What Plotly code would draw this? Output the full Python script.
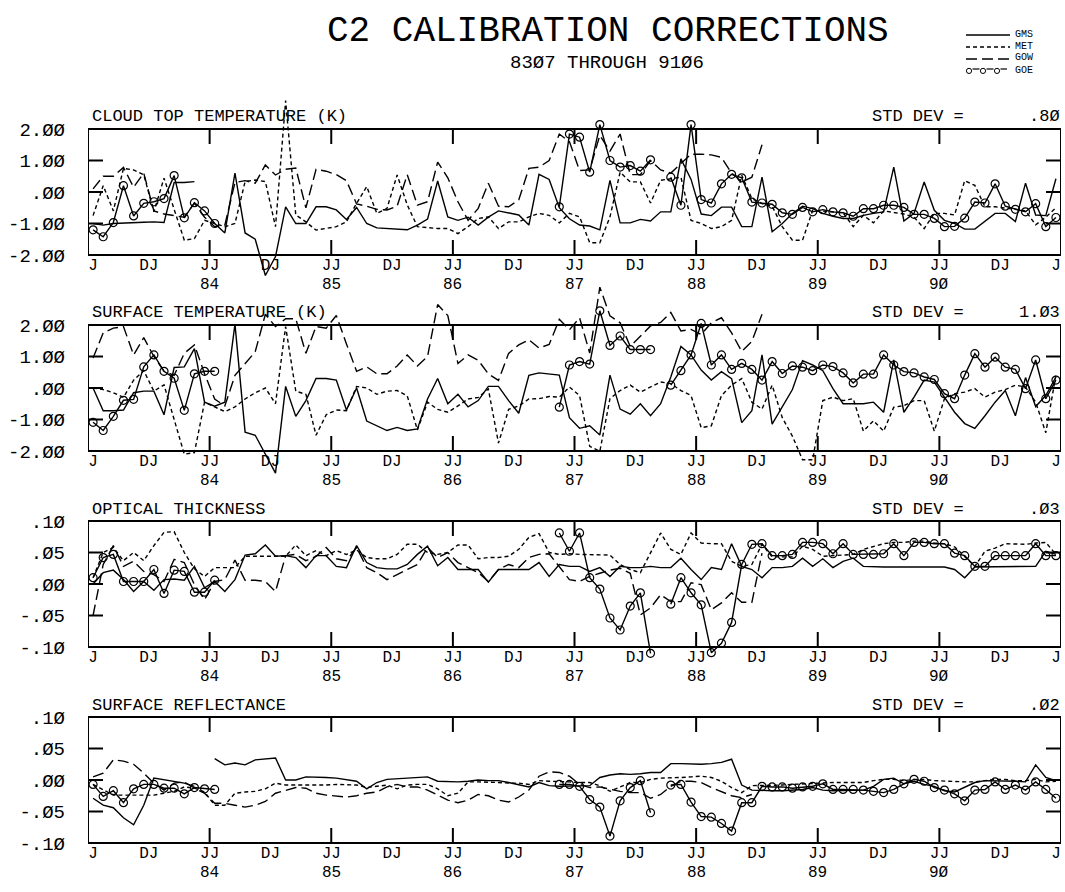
import plotly.graph_objects as go

# Monthly calibration corrections, July 1983 (month 0) through June 1991 (month 95).
# None marks months with no correction for that satellite.

MONTHS = list(range(96))

X_TICK_POS = [0.5, 6, 12, 18, 24, 30, 36, 42, 48, 54, 60, 66, 72, 78, 84, 90, 95.5]
X_TICK_TEXT = ["J", "DJ", "JJ", "DJ", "JJ", "DJ", "JJ", "DJ",
               "JJ", "DJ", "JJ", "DJ", "JJ", "DJ", "JJ", "DJ", "J"]
YEAR_POS = [12, 24, 36, 48, 60, 72, 84]
YEAR_TEXT = ["84", "85", "86", "87", "88", "89", "9Ø"]

SATELLITES = ["GMS", "MET", "GOW", "GOE"]

# ---------------- cloud top temperature (K) ----------------
CTT_GMS = [-1.0, -1.05, -1.0, -0.98, -0.97, -0.96, -0.95, -0.97, 0.3, 0.3,
           0.33, None, -1.0, -1.3, 0.6, -1.3, -1.5, -2.65, -2.05, -0.47,
           -1.0, -1.0, -0.47, -0.47, -0.57, -0.87, -0.49, -1.0, -1.14, -1.16,
           -1.16, -1.2, -1.05, -0.86, 0.35, -0.79, -0.9, -0.8, -1.05, -0.8,
           -0.6, -0.66, -0.73, -1.05, 0.56, 0.4, -0.5, -0.85, -1.05, -1.08,
           -1.2, 0.37, -0.98, -0.98, -0.87, -0.92, -0.63, -0.63, 1.05, 0.4,
           -0.7, -0.75, -0.48, -0.48, -1.1, -1.1, 0.47, -1.26, -1.0, -0.68,
           -0.45, -0.53, -0.68, -0.77, -0.84, -0.84, -0.74, -0.68, -0.63, 0.79,
           -0.92, -0.68, 0.32, -0.58, -0.9, -1.0, -1.18, -1.18, -0.94, -0.68,
           -0.68, -0.94, 0.28, -0.73, -0.75, 0.42]
CTT_MET = [-0.75, 0.2, -0.6, 0.75, 0.7, 0.55, -0.63, 0.44, -0.55, -1.53,
           -1.48, -0.9, -1.0, -1.1, -1.0, 0.33, 0.38, 0.33, -1.1, 2.9,
           -0.73, -0.95, -1.21, -1.16, -1.1, -0.95, -0.36, 0.17, -0.68, -0.52,
           0.54, -0.41, -1.1, -1.13, -1.16, -1.16, -1.32, -1.1, -0.84, -0.79,
           -1.16, -0.95, -0.95, -0.79, -0.68, -0.74, -0.98, -0.68, -0.79, -1.61,
           -1.61, -0.79, 0.63, 0.32, 0.32, -0.35, 0.37, 0.42, 0.47, -0.9,
           -1.0, -1.16, -1.1, -0.9, 0.53, -0.21, -0.37, -0.45, -1.1, -1.53,
           -1.53, -0.58, -0.6, -0.63, -0.66, -1.1, -0.74, -0.98, -0.6, -0.65,
           -0.7, -0.8, -1.16, -0.68, -0.68, -0.73, 0.36, 0.21, -0.47, -0.47,
           -0.5, -0.55, -0.6, -1.04, -0.8, -0.5]
CTT_GOW = [0.1, 0.5, 0.5, 0.78, 0.15, 0.6, -0.6, -0.7, -0.75, -0.8,
           -0.35, -0.8, -1.1, -1.05, 0.3, 0.36, 0.28, 0.86, 0.54, 0.72,
           0.76, -0.5, 0.72, 0.66, 0.55, 0.36, -0.38, -0.45, -0.55, -0.57,
           -0.45, 0.55, -0.42, -0.31, 0.95, 0.45, -0.31, -0.9, -0.52, 0.28,
           -0.45, -0.47, -0.25, 0.75, 0.79, 1.0, 1.84, 1.6, 0.68, 0.7,
           1.8, 1.3, 1.84, 0.55, 0.55, 1.0, 0.7, 0.6, 0.9, 1.2,
           1.2, 1.18, 1.1, 0.6, 0.32, 0.47, 1.5] + [None] * 29
CTT_GOE = ([-1.2, -1.42, -0.97, 0.2, -0.76, -0.36, -0.31, -0.21, 0.52, -0.82,
            -0.34, -0.6, -1.0] + [None] * 33 +
           [-0.47, 1.84, 1.74, 0.63, 2.14, 1.0, 0.79, 0.84, 0.66, 1.02] + [None] +
           [0.47, -0.42, 2.14, -0.24, -0.35, 0.26, 0.56, 0.45, -0.32, -0.35,
            -0.39, -0.66, -0.71, -0.49, -0.63, -0.56, -0.63, -0.66, -0.77, -0.53,
            -0.53, -0.42, -0.42, -0.49, -0.71, -0.71, -0.84, -1.1, -1.09, -0.83,
            -0.32, -0.35, 0.26, -0.45, -0.55, -0.63, -0.37, -1.1, -0.81])

# ---------------- surface temperature (K) ----------------
ST_GMS = [0.0, -0.72, -0.72, -0.7, -0.15, -0.1, -0.1, -0.85, 0.65, 0.67,
          1.25, -0.45, -0.58, -0.45, 2.03, -1.4, -1.5, -2.1, -2.7, 0.05,
          -0.9, -0.4, 0.3, 0.3, 0.25, -0.7, 0.0, -1.05, -1.2, -1.35,
          -1.25, -1.35, -1.3, -0.35, 0.3, -0.5, -0.2, -0.6, -0.4, 0.05,
          0.05, -0.4, -0.8, 0.4, 0.48, 0.44, 0.41, -0.94, -1.28, -1.2,
          -1.49, 0.41, -0.67, -0.83, -0.5, -0.88, -0.5, 0.35, 1.32, 1.05,
          0.57, 0.25, 0.52, 0.3, -1.1, -0.72, 1.05, -1.15, -0.61, -0.05,
          0.87, 0.73, 0.55, -0.02, -0.5, -0.5, -0.5, -0.45, -0.77, 0.89,
          -0.77, -0.29, 0.25, 0.19, -0.29, -0.77, -1.13, -1.28, -0.88, -0.45,
          -0.08, -0.88, 0.33, -0.59, -0.24, 0.35]
ST_MET = [0.0, -0.05, -0.15, -0.3, 0.25, 0.55, -0.1, 0.1, -1.0, -2.1,
          -2.05, -0.45, -0.6, -0.75, -0.6, -0.35, -0.15, 0.0, -0.5, 1.95,
          -0.1, -0.2, -1.5, -0.85, -0.7, -0.72, 0.05, 0.0, -0.2, -0.1,
          -0.08, -0.25, -1.33, -0.45, -0.68, -0.77, -0.57, -0.35, -0.3, -0.03,
          -1.75, -0.68, -0.57, -0.35, -0.34, -0.27, -0.29, 0.03, -0.24, -1.85,
          -2.01, -0.34, -0.08, 0.09, -0.13, 0.03, 0.19, 0.14, -0.08, -0.24,
          -1.26, -1.2, -0.24, 0.09, 0.3, -0.45, -0.67, 0.09, -0.94, -1.53,
          -2.28, -2.28, -0.4, -0.29, -0.4, -0.34, -1.37, -1.04, -1.37, -0.61,
          -0.56, -0.4, -0.4, -1.37, -0.34, -0.18, -0.13, -0.02, -0.29, -0.13,
          -0.05, 0.09, 0.03, -0.45, -1.42, 0.41]
ST_GOW = [0.95, 1.75, 1.9, 1.95, 1.05, 1.6, 1.0, 0.53, 0.4, 1.1,
          1.37, 0.45, -0.35, -0.57, 0.4, 0.78, 1.15, 2.34, 1.95, 2.2,
          2.2, 1.1, 1.95, 1.9, 2.3, 1.4, 0.53, 0.67, 0.45, 0.45,
          0.7, 1.05, 0.7, 1.0, 2.65, 2.3, 0.78, 1.05, 0.88, 0.45,
          0.24, 1.1, 1.37, 1.53, 1.27, 1.38, 2.18, 1.85, 2.23, 1.11,
          3.2, 2.29, 2.07, 1.32, 1.65, 1.97, 2.08, 2.4, 1.81, 1.86,
          1.7, 2.07, 2.23, 1.75, 1.16, 1.48, 2.34] + [None] * 29
ST_GOE = ([-1.09, -1.35, -0.9, -0.39, -0.36, 0.67, 1.05, 0.53, 0.31, -0.71,
           0.45, 0.53, 0.53] + [None] * 33 +
          [-0.61, 0.73, 0.84, 0.76, 2.45, 1.35, 1.65, 1.22, 1.22, 1.22] + [None] +
          [0.09, 0.55, 1.05, 2.05, 0.73, 1.05, 0.59, 0.78, 0.59, 0.25,
           0.84, 0.46, 0.7, 0.66, 0.55, 0.73, 0.68, 0.48, 0.16, 0.44,
           0.44, 1.05, 0.73, 0.52, 0.48, 0.35, 0.27, -0.18, -0.34, 0.41,
           1.09, 0.66, 0.98, 0.66, 0.59, -0.02, 0.89, -0.34, 0.25])

# ---------------- optical thickness ----------------
OT_GMS = [0.0, 0.018, 0.022, 0.007, -0.012, 0.004, -0.010, 0.007, 0.008, 0.006,
          0.028, -0.006, 0.004, -0.012, 0.007, 0.046, 0.048, 0.062, 0.044, 0.045,
          0.042, 0.026, 0.045, 0.045, 0.028, 0.026, 0.061, 0.034, 0.026, 0.024,
          0.024, 0.031, 0.047, 0.060, 0.029, 0.042, 0.023, 0.023, 0.023, 0.003,
          0.023, 0.023, 0.023, 0.023, 0.034, 0.012, 0.031, 0.028, 0.028, 0.020,
          0.026, 0.012, 0.028, 0.026, 0.026, 0.028, 0.026, 0.026, 0.041, 0.023,
          0.007, 0.026, 0.023, 0.064, 0.028, 0.023, 0.010, 0.026, 0.026, 0.028,
          0.041, 0.028, 0.040, 0.026, 0.036, 0.041, 0.028, 0.027, 0.027, 0.027,
          0.027, 0.027, 0.027, 0.027, 0.027, 0.023, 0.010, 0.027, 0.027, 0.027,
          0.027, 0.027, 0.027, 0.028, 0.052, 0.047]
OT_MET = [0.010, 0.050, 0.058, 0.037, 0.050, 0.037, 0.061, 0.082, 0.083, 0.050,
          0.024, 0.012, 0.026, 0.026, 0.026, 0.044, 0.044, 0.044, 0.044, 0.044,
          0.062, 0.045, 0.053, 0.045, 0.053, 0.047, 0.054, 0.042, 0.040, 0.040,
          0.047, 0.063, 0.063, 0.050, 0.047, 0.050, 0.062, 0.062, 0.040, 0.042,
          0.042, 0.044, 0.055, 0.074, 0.080, 0.050, 0.047, 0.048, 0.047, 0.047,
          0.047, 0.046, 0.031, 0.023, 0.018, 0.049, 0.081, 0.055, 0.047, 0.081,
          0.065, 0.064, 0.064, 0.036, 0.028, 0.031, 0.063, 0.043, 0.043, 0.043,
          0.060, 0.055, 0.044, 0.045, 0.047, 0.047, 0.055, 0.059, 0.064, 0.066,
          0.066, 0.068, 0.068, 0.065, 0.064, 0.059, 0.043, 0.028, 0.052, 0.057,
          0.064, 0.064, 0.063, 0.065, 0.066, 0.047]
OT_GOW = [-0.050, 0.031, 0.061, 0.028, 0.036, 0.020, 0.015, 0.004, 0.039, 0.034,
          -0.001, -0.025, 0.004, 0.007, 0.038, 0.006, 0.006, 0.004, -0.012, 0.045,
          0.047, 0.037, 0.044, 0.058, 0.040, 0.037, 0.058, 0.026, 0.018, 0.007,
          0.015, 0.023, 0.031, 0.058, 0.042, 0.050, 0.034, 0.026, 0.018, 0.004,
          0.023, 0.031, 0.026, 0.042, 0.047, 0.048, 0.028, 0.007, 0.004, 0.012,
          0.017, 0.022, 0.025, 0.017, -0.049, -0.038, -0.017, -0.028, -0.028, 0.002,
          -0.001, -0.041, -0.030, -0.014, -0.029, -0.029, 0.049] + [None] * 29
OT_GOE = ([0.010, 0.042, 0.047, 0.004, 0.004, 0.004, 0.023, -0.015, 0.022, 0.020,
           -0.013, -0.013, 0.006] + [None] * 33 +
          [0.081, 0.052, 0.081, 0.010, -0.008, -0.054, -0.073, -0.035, -0.014, -0.110] +
          [None] +
          [-0.032, 0.010, -0.014, -0.033, -0.109, -0.094, -0.061, 0.031, 0.063, 0.064,
           0.045, 0.045, 0.047, 0.066, 0.066, 0.064, 0.048, 0.064, 0.047, 0.047,
           0.047, 0.048, 0.064, 0.045, 0.066, 0.066, 0.064, 0.064, 0.049, 0.045,
           0.028, 0.028, 0.045, 0.045, 0.045, 0.045, 0.064, 0.045, 0.045])

# ---------------- surface reflectance ----------------
SR_GMS = [-0.029, -0.040, -0.044, -0.060, -0.071, -0.040, 0.003, 0.000, -0.002, -0.005,
          -0.010, None, 0.034, 0.024, 0.027, 0.024, 0.032, 0.034, 0.035, 0.000,
          0.000, 0.005, 0.005, 0.004, 0.003, 0.000, -0.002, -0.014, -0.004, 0.001,
          0.002, 0.003, 0.004, 0.005, -0.002, -0.003, -0.003, -0.002, 0.000, -0.001,
          -0.001, -0.004, -0.007, -0.011, -0.004, -0.009, -0.010, -0.010, -0.010, -0.009,
          0.004, 0.008, 0.010, 0.009, 0.010, 0.012, 0.012, 0.026, 0.026, 0.025,
          0.025, 0.026, 0.028, 0.033, -0.008, -0.016, -0.017, -0.017, -0.017, -0.016,
          -0.015, -0.012, -0.016, -0.017, -0.017, -0.017, -0.016, -0.010, 0.001, 0.003,
          -0.006, -0.002, -0.007, -0.010, -0.017, -0.019, -0.011, -0.004, -0.001, -0.001,
          -0.002, -0.002, -0.003, 0.024, 0.004, -0.001]
SR_MET = [-0.007, -0.016, -0.024, -0.024, -0.024, -0.024, -0.024, -0.021, -0.018, -0.011,
          -0.013, -0.019, -0.040, -0.040, -0.021, -0.019, -0.018, -0.014, -0.005, -0.008,
          -0.008, -0.009, -0.008, -0.008, -0.007, -0.008, -0.008, -0.012, -0.010, -0.008,
          -0.014, -0.008, -0.007, -0.007, -0.014, -0.025, -0.021, -0.003, -0.003, -0.003,
          -0.004, -0.005, -0.005, -0.007, -0.001, -0.002, -0.002, -0.003, -0.004, -0.004,
          -0.009, -0.018, -0.011, -0.004, -0.004, 0.001, 0.003, 0.003, 0.004, 0.005,
          0.006, 0.004, -0.002, -0.012, -0.020, -0.009, -0.009, -0.009, -0.008, -0.007,
          -0.006, -0.006, -0.004, -0.004, -0.004, -0.004, -0.004, -0.001, 0.001, 0.001,
          -0.001, 0.001, 0.001, -0.001, -0.002, -0.003, -0.003, -0.003, -0.001, 0.001,
          0.001, -0.001, -0.001, 0.001, -0.003, -0.002]
SR_GOW = [0.005, 0.011, 0.032, 0.030, 0.025, 0.011, -0.005, -0.016, -0.005, -0.003,
          -0.013, -0.021, -0.037, -0.037, -0.040, -0.043, -0.040, -0.034, -0.021, -0.016,
          -0.012, -0.013, -0.021, -0.024, -0.025, -0.027, -0.025, -0.021, -0.019, -0.011,
          -0.007, -0.011, -0.011, -0.016, -0.024, -0.032, -0.036, -0.032, -0.023, -0.025,
          -0.032, -0.035, -0.027, -0.016, 0.006, 0.013, 0.012, 0.006, -0.007, -0.012,
          -0.011, -0.015, -0.018, -0.020, -0.020, -0.029, -0.023, -0.010, -0.002, -0.002,
          -0.004, -0.012, -0.018, -0.025, -0.028, -0.023] + [None] * 30
SR_GOE = ([-0.007, -0.026, -0.017, -0.036, -0.014, -0.007, -0.007, -0.013, -0.013, -0.022,
           -0.012, -0.014, -0.015] + [None] * 33 +
          [-0.007, -0.007, -0.010, -0.031, -0.043, -0.089, -0.033, -0.012, -0.001, -0.052] +
          [None] +
          [-0.008, -0.007, -0.035, -0.058, -0.059, -0.069, -0.081, -0.036, -0.036, -0.010,
           -0.011, -0.011, -0.013, -0.011, -0.010, -0.006, -0.015, -0.015, -0.015, -0.016,
           -0.018, -0.020, -0.015, -0.006, 0.001, -0.002, -0.012, -0.016, -0.022, -0.033,
           -0.016, -0.015, -0.003, -0.015, -0.008, -0.016, -0.003, -0.015, -0.029])

TEMP_TICKS = [-2, -1, 0, 1, 2]
TEMP_TICK_TEXT = ["-2.ØØ", "-1.ØØ", ".ØØ", "1.ØØ", "2.ØØ"]
SMALL_TICKS = [-0.1, -0.05, 0, 0.05, 0.1]
SMALL_TICK_TEXT = ["-.1Ø", "-.Ø5", ".ØØ", ".Ø5", ".1Ø"]

PANELS = [
    dict(title="CLOUD TOP TEMPERATURE (K)", std=".8Ø", lo=-2, hi=2,
         tv=TEMP_TICKS, tt=TEMP_TICK_TEXT,
         series=[CTT_GMS, CTT_MET, CTT_GOW, CTT_GOE]),
    dict(title="SURFACE TEMPERATURE (K)", std="1.Ø3", lo=-2, hi=2,
         tv=TEMP_TICKS, tt=TEMP_TICK_TEXT,
         series=[ST_GMS, ST_MET, ST_GOW, ST_GOE]),
    dict(title="OPTICAL THICKNESS", std=".Ø3", lo=-0.1, hi=0.1,
         tv=SMALL_TICKS, tt=SMALL_TICK_TEXT,
         series=[OT_GMS, OT_MET, OT_GOW, OT_GOE]),
    dict(title="SURFACE REFLECTANCE", std=".Ø2", lo=-0.1, hi=0.1,
         tv=SMALL_TICKS, tt=SMALL_TICK_TEXT,
         series=[SR_GMS, SR_MET, SR_GOW, SR_GOE]),
]

for p in PANELS:
    for s in p["series"]:
        assert len(s) == 96

# ---------------- page geometry (pixels) ----------------
W, H = 1065, 892
BOX_L, BOX_R = 88, 1061
BOX_TOPS = [129, 325, 521, 717]
BOX_H = 126
EXT_UP = [45, 45, 22, 22]      # room above each frame for lines that overshoot
EXT_DOWN = [30, 30, 24, 24]    # room below each frame
TICK_PX = 15

MONO = "Liberation Mono, DejaVu Sans Mono, monospace"
INK = "black"

STYLES = {
    "GMS": dict(dash="solid", marker=False),
    "MET": dict(dash="4px,3px", marker=False),
    "GOW": dict(dash="11px,5px", marker=False),
    "GOE": dict(dash="solid", marker=True),
}


def py(px):
    return 1 - px / H


def pxx(px):
    return px / W


fig = go.Figure()
shapes = []
annotations = []
layout_axes = {}

px_per_month = (BOX_R - BOX_L) / 96.0
x_centers = [m + 0.5 for m in MONTHS]

for k, p in enumerate(PANELS):
    n = k + 1
    xa, ya = f"x{n}", f"y{n}"
    top = BOX_TOPS[k]
    bot = top + BOX_H
    lo, hi = p["lo"], p["hi"]
    ppu = BOX_H / (hi - lo)
    ext_top, ext_bot = top - EXT_UP[k], bot + EXT_DOWN[k]
    y_range = [lo - (ext_bot - bot) / ppu, hi + (top - ext_top) / ppu]

    layout_axes[f"xaxis{n}"] = dict(
        domain=[pxx(BOX_L), pxx(BOX_R)], range=[0, 96], anchor="free",
        position=py(bot), tickvals=X_TICK_POS, ticktext=X_TICK_TEXT,
        tickfont=dict(family=MONO, size=16, color=INK), ticks="",
        ticklabelstandoff=-2,
        showgrid=False, zeroline=False, showline=False, fixedrange=True)
    layout_axes[f"yaxis{n}"] = dict(
        domain=[py(ext_bot), py(ext_top)], range=y_range, anchor=xa,
        tickvals=p["tv"], ticktext=p["tt"], ticks="", ticklabelstandoff=22,
        tickfont=dict(family=MONO, size=19, color=INK),
        showgrid=False, zeroline=False, showline=False, fixedrange=True)

    for name, vals in zip(SATELLITES, p["series"]):
        st = STYLES[name]
        fig.add_trace(go.Scatter(
            x=x_centers, y=vals, xaxis=xa, yaxis=ya, name=name,
            mode="lines+markers" if st["marker"] else "lines",
            line=dict(color=INK, width=1.4, dash=st["dash"]),
            marker=dict(symbol="circle-open", size=8, color=INK,
                        line=dict(width=1.2, color=INK)),
            connectgaps=False, cliponaxis=False, showlegend=False,
            hoverinfo="skip"))

    # frame
    shapes.append(dict(type="rect", xref=xa, yref=ya, x0=0, x1=96, y0=lo, y1=hi,
                       line=dict(color=INK, width=2), layer="above"))
    # inward ticks at the July boundaries, bottom and top
    dy = TICK_PX / ppu
    for xm in range(12, 96, 12):
        shapes.append(dict(type="line", xref=xa, yref=ya, x0=xm, x1=xm,
                           y0=lo, y1=lo + dy, line=dict(color=INK, width=2)))
        shapes.append(dict(type="line", xref=xa, yref=ya, x0=xm, x1=xm,
                           y0=hi, y1=hi - dy, line=dict(color=INK, width=2)))
    # inward ticks at the inner value levels, left and right
    dx = TICK_PX / px_per_month
    for yv in p["tv"][1:-1]:
        shapes.append(dict(type="line", xref=xa, yref=ya, x0=0, x1=dx,
                           y0=yv, y1=yv, line=dict(color=INK, width=2)))
        shapes.append(dict(type="line", xref=xa, yref=ya, x0=96, x1=96 - dx,
                           y0=yv, y1=yv, line=dict(color=INK, width=2)))

    # year row under the July boundaries
    for xv, txt in zip(YEAR_POS, YEAR_TEXT):
        annotations.append(dict(text=txt, xref=xa, yref="paper", x=xv,
                                y=py(bot + 30), xanchor="center",
                                yanchor="middle", showarrow=False,
                                font=dict(family=MONO, size=16, color=INK)))

    # panel heading and standard deviation
    annotations.append(dict(text=p["title"], xref="paper", yref="paper",
                            x=pxx(BOX_L + 2), y=py(top - 12), xanchor="left",
                            yanchor="middle", showarrow=False,
                            font=dict(family=MONO, size=17, color=INK)))
    annotations.append(dict(text="STD DEV =", xref="paper", yref="paper",
                            x=pxx(870), y=py(top - 12), xanchor="left",
                            yanchor="middle", showarrow=False,
                            font=dict(family=MONO, size=17, color=INK)))
    annotations.append(dict(text=p["std"], xref="paper", yref="paper",
                            x=pxx(BOX_R + 1), y=py(top - 12), xanchor="right",
                            yanchor="middle", showarrow=False,
                            font=dict(family=MONO, size=17, color=INK)))

# ---------------- headings ----------------
annotations.append(dict(text="C2 CALIBRATION CORRECTIONS", xref="paper",
                        yref="paper", x=pxx(608), y=py(31), xanchor="center",
                        yanchor="middle", showarrow=False,
                        font=dict(family=MONO, size=36, color=INK)))
annotations.append(dict(text="83Ø7 THROUGH 91Ø6", xref="paper", yref="paper",
                        x=pxx(607), y=py(63), xanchor="center",
                        yanchor="middle", showarrow=False,
                        font=dict(family=MONO, size=19, color=INK)))

# ---------------- key ----------------
KEY_X0, KEY_X1 = 966, 1010
KEY_ROWS = [34, 46, 58, 70]
for name, row in zip(SATELLITES, KEY_ROWS):
    st = STYLES[name]
    if st["marker"]:
        for c in [969, 983, 997]:
            shapes.append(dict(type="circle", xref="paper", yref="paper",
                               x0=pxx(c - 2.6), x1=pxx(c + 2.6),
                               y0=py(row + 3.5), y1=py(row - 1.7),
                               line=dict(color=INK, width=1)))
        for a, b in [(972.5, 979.5), (986.5, 993.5), (1000.5, 1007)]:
            shapes.append(dict(type="line", xref="paper", yref="paper",
                               x0=pxx(a), x1=pxx(b), y0=py(row - 1),
                               y1=py(row - 1), line=dict(color=INK, width=1.2)))
    else:
        shapes.append(dict(type="line", xref="paper", yref="paper",
                           x0=pxx(KEY_X0), x1=pxx(KEY_X1), y0=py(row + 1),
                           y1=py(row + 1), line=dict(color=INK, width=1.4,
                                                     dash=st["dash"])))
    annotations.append(dict(text=name, xref="paper", yref="paper",
                            x=pxx(1013), y=py(row), xanchor="left",
                            yanchor="middle", showarrow=False,
                            font=dict(family=MONO, size=10, color=INK)))

fig.update_layout(
    width=W, height=H, margin=dict(l=0, r=0, t=0, b=0),
    paper_bgcolor="white", plot_bgcolor="rgba(0,0,0,0)",
    showlegend=False, shapes=shapes, annotations=annotations,
    **layout_axes)

fig.write_html("out.html")
